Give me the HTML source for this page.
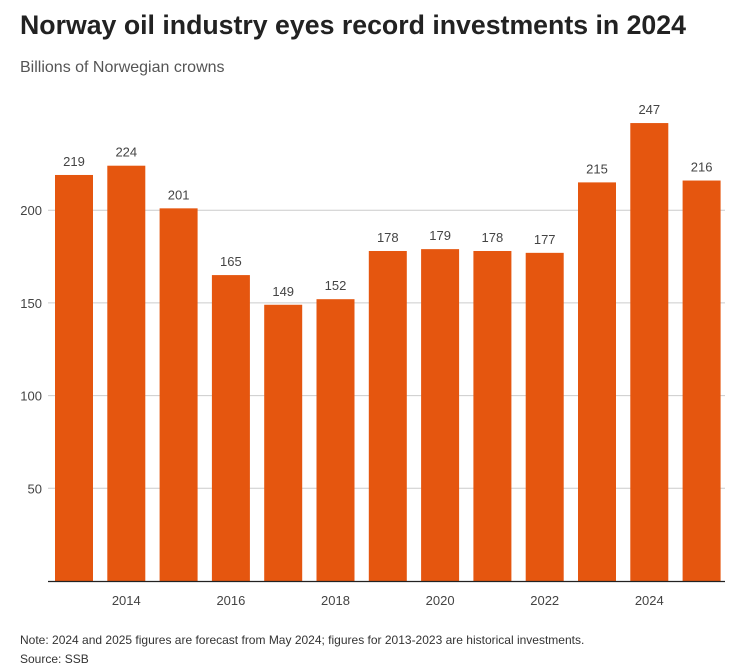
<!DOCTYPE html>
<html><head><meta charset="utf-8"><style>
body{margin:0;background:#fff;width:755px;height:666px;overflow:hidden;font-family:"Liberation Sans",sans-serif;}
</style></head><body>
<svg width="755" height="666" xmlns="http://www.w3.org/2000/svg">
<text x="20" y="34" font-size="26.7" font-weight="bold" fill="#222">Norway oil industry eyes record investments in 2024</text>
<text x="20" y="72" font-size="16" fill="#555">Billions of Norwegian crowns</text>
<g id="plot"></g>
<text x="20" y="644" font-size="12" fill="#333">Note: 2024 and 2025 figures are forecast from May 2024; figures for 2013-2023 are historical investments.</text>
<text x="20" y="663" font-size="12" fill="#333">Source: SSB</text>
</svg>
<script>
const years=[2013,2014,2015,2016,2017,2018,2019,2020,2021,2022,2023,2024,2025];
const values=[219,224,201,165,149,152,178,179,178,177,215,247,216];
const yTicks=[50,100,150,200];
const xTickYears=[2014,2016,2018,2020,2022,2024];
const NS="http://www.w3.org/2000/svg";
const g=document.getElementById('plot');
const y0=581,pxPer=1.854,x0=55,step=52.3,bw=38;
const y=v=>y0-v*pxPer;
const x=i=>x0+i*step;
function mk(t,a,txt){const e=document.createElementNS(NS,t);for(const k in a)e.setAttribute(k,a[k]);if(txt!==undefined)e.textContent=txt;g.appendChild(e);return e;}
yTicks.forEach(v=>{
 const l=mk('line',{x1:48,x2:725,y1:y(v),y2:y(v),stroke:'#ccc','stroke-width':1});
 
 
 const t=mk('text',{x:42,y:y(v)+5,'text-anchor':'end','font-size':13,fill:'#444'},v);
 
 
});
values.forEach((v,i)=>{
 const r=mk('rect',{x:x(i),y:y(v),width:bw,height:y0-y(v),fill:'#e5560f'});
 
 
 const t=mk('text',{x:x(i)+bw/2,y:y(v)-9,'text-anchor':'middle','font-size':13,fill:'#444'},v);
 
 
});
const ax=mk('line',{x1:48,x2:725,y1:y0+0.5,y2:y0+0.5,stroke:'#222','stroke-width':1.2});


xTickYears.forEach(yr=>{
 const i=years.indexOf(yr);
 const t=mk('text',{x:x(i)+bw/2,y:605,'text-anchor':'middle','font-size':13,fill:'#444'},yr);
 
 
});
</script>
</body></html>
